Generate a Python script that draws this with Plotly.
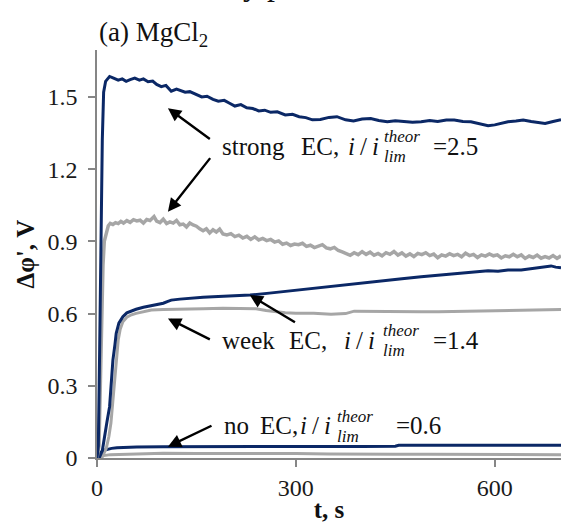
import plotly.graph_objects as go

# ---------------- data ----------------
t_strong_blue = [0, 2, 4, 6, 8, 10, 13, 16, 19, 25, 32, 38, 44, 50, 57, 64, 70, 77, 84, 90, 97, 104, 112, 120,
                 127, 133, 140, 150, 158, 166, 175, 183, 192, 200, 208, 217, 226, 235, 244, 253, 262, 272, 284,
                 295, 305, 315, 325, 337, 350, 362, 375, 387, 400, 413, 425, 438, 450, 463, 476, 489, 502, 514,
                 527, 539, 552, 564, 577, 590, 600, 610, 620, 632, 643, 655, 665, 676, 688, 700]
v_strong_blue = [0, 0.05, 0.45, 0.95, 1.32, 1.52, 1.565, 1.575, 1.585, 1.578, 1.57, 1.575, 1.565, 1.572, 1.578,
                 1.57, 1.575, 1.563, 1.566, 1.552, 1.543, 1.548, 1.524, 1.533, 1.527, 1.52, 1.522, 1.51, 1.50,
                 1.503, 1.49, 1.482, 1.486, 1.474, 1.462, 1.468, 1.455, 1.452, 1.442, 1.445, 1.436, 1.438, 1.425,
                 1.428, 1.418, 1.414, 1.405, 1.406, 1.415, 1.418, 1.405, 1.40, 1.408, 1.41, 1.402, 1.397, 1.401,
                 1.398, 1.395, 1.397, 1.402, 1.398, 1.404, 1.404, 1.398, 1.397, 1.39, 1.38, 1.384, 1.392, 1.397,
                 1.40, 1.404, 1.398, 1.395, 1.39, 1.398, 1.405]

t_strong_gray = [0, 3, 5, 7, 9, 11, 14, 17, 20, 24, 28, 32, 36, 40, 45, 50, 55, 60, 65, 70, 75, 80, 86, 90, 95,
                 100, 105, 110, 115, 120, 125, 130, 135, 140, 145, 150, 155, 160, 165, 170, 175, 180, 185, 190,
                 196, 202, 208, 214, 220, 226, 232, 238, 244, 250, 256, 262, 268, 274, 280, 286, 292, 298, 304,
                 310, 316, 322, 328, 334, 340, 346, 352, 358, 364, 370, 376, 382, 388, 394, 400, 406, 412, 418,
                 424, 430, 436, 442, 448, 454, 460, 466, 472, 478, 484, 490, 496, 502, 508, 514, 520, 526, 532,
                 538, 544, 550, 556, 562, 568, 574, 580, 586, 592, 598, 604, 610, 616, 622, 628, 634, 640, 646,
                 652, 658, 664, 670, 676, 682, 688, 694, 700]
v_strong_gray = [0, 0.05, 0.3, 0.6, 0.8, 0.9, 0.94, 0.965, 0.975, 0.97, 0.978, 0.974, 0.983, 0.976, 0.986, 0.979,
                 0.99, 0.985, 0.988, 0.976, 0.991, 0.987, 1.003, 0.984, 0.978, 0.992, 0.974, 0.981, 0.976, 0.987,
                 0.969, 0.972, 0.96, 0.976, 0.968, 0.963, 0.952, 0.944, 0.952, 0.935, 0.948, 0.939, 0.951, 0.931,
                 0.927, 0.932, 0.92, 0.926, 0.914, 0.921, 0.908, 0.919, 0.906, 0.912, 0.903, 0.908, 0.897, 0.902,
                 0.888, 0.893, 0.883, 0.889, 0.886, 0.892, 0.879, 0.884, 0.874, 0.88, 0.886, 0.873, 0.869, 0.875,
                 0.862, 0.856, 0.85, 0.842, 0.853, 0.845, 0.857, 0.846, 0.855, 0.842, 0.85, 0.84, 0.853, 0.846,
                 0.858, 0.843, 0.852, 0.839, 0.848, 0.837, 0.85, 0.845, 0.853, 0.841, 0.847, 0.832, 0.844, 0.839,
                 0.849, 0.841, 0.846, 0.836, 0.851, 0.841, 0.846, 0.833, 0.844, 0.839, 0.848, 0.84, 0.844, 0.831,
                 0.84, 0.836, 0.846, 0.836, 0.844, 0.829, 0.839, 0.833, 0.843, 0.83, 0.837, 0.831, 0.841, 0.829,
                 0.84]

t_week_blue = [0, 4, 8, 11, 15, 19, 22, 24, 27, 29, 33, 39, 45, 52, 59, 70, 80, 90, 100, 106, 112, 125, 140,
               160, 175, 200, 231, 260, 290, 327, 360, 388, 410, 438, 460, 489, 515, 539, 565, 590, 605, 620,
               640, 655, 670, 685, 692, 700]
v_week_blue = [0, 0.005, 0.03, 0.088, 0.15, 0.213, 0.32, 0.407, 0.47, 0.518, 0.56, 0.587, 0.603, 0.612, 0.618,
               0.626, 0.632, 0.636, 0.643, 0.65, 0.656, 0.66, 0.664, 0.668, 0.67, 0.673, 0.677, 0.685, 0.694,
               0.705, 0.715, 0.726, 0.731, 0.74, 0.745, 0.753, 0.76, 0.767, 0.773, 0.778, 0.776, 0.781, 0.781,
               0.786, 0.79, 0.798, 0.793, 0.79]

t_week_gray = [0, 8, 14, 18, 21, 24, 26.5, 29, 32, 35, 39, 45, 52, 59, 70, 82, 100, 130, 160, 190, 223, 240,
               255, 270, 284, 300, 327, 353, 375, 388, 410, 438, 460, 489, 515, 540, 565, 590, 615, 640, 665, 700]
v_week_gray = [0, 0.005, 0.04, 0.09, 0.145, 0.24, 0.338, 0.42, 0.49, 0.535, 0.566, 0.585, 0.595, 0.601, 0.607,
               0.615, 0.617, 0.62, 0.62, 0.622, 0.622, 0.62, 0.613, 0.608, 0.603, 0.601, 0.601, 0.597, 0.6,
               0.61, 0.609, 0.61, 0.607, 0.608, 0.608, 0.609, 0.611, 0.612, 0.614, 0.615, 0.616, 0.617]

t_no_blue = [0, 2, 4, 7, 10, 15, 22, 30, 45, 60, 100, 150, 200, 300, 400, 450, 455, 500, 600, 700]
v_no_blue = [0, 0.008, 0.018, 0.027, 0.032, 0.036, 0.04, 0.043, 0.045, 0.046, 0.047, 0.048, 0.048, 0.048,
             0.048, 0.049, 0.053, 0.053, 0.053, 0.053]

t_no_gray = [0, 5, 10, 20, 40, 60, 100, 150, 200, 250, 300, 350, 400, 450, 500, 550, 600, 650, 700]
v_no_gray = [0, 0.006, 0.01, 0.014, 0.015, 0.018, 0.02, 0.019, 0.02, 0.018, 0.019, 0.017, 0.018, 0.016,
             0.016, 0.015, 0.015, 0.014, 0.014]

x_ticks = [0, 300, 600]
y_ticks = [0, 0.3, 0.6, 0.9, 1.2, 1.5]
y_tick_labels = ["0", "0.3", "0.6", "0.9", "1.2", "1.5"]

# ---------------- style ----------------
BLUE = "#0b2866"
GRAY = "#a6a6a6"
AXIS = "#868686"
SERIF = "Liberation Serif"

fig = go.Figure()
series = [
    (t_no_gray, v_no_gray, GRAY, 3),
    (t_no_blue, v_no_blue, BLUE, 3),
    (t_week_gray, v_week_gray, GRAY, 3),
    (t_week_blue, v_week_blue, BLUE, 3),
    (t_strong_gray, v_strong_gray, GRAY, 3.5),
    (t_strong_blue, v_strong_blue, BLUE, 3),
]
for tx, vy, col, w in series:
    fig.add_trace(go.Scatter(x=tx, y=vy, mode="lines", line=dict(color=col, width=w),
                             showlegend=False, hoverinfo="skip"))

anns = []
# arrows (head x,y ; tail ax,ay) in data units
arrows = [
    (107, 1.453, 172.5, 1.321),
    (107, 1.023, 172.5, 1.252),
    (107, 0.580, 172.5, 0.490),
    (230.4, 0.677, 300.9, 0.560),
    (107, 0.047, 175, 0.137),
]
for x, y, ax, ay in arrows:
    anns.append(dict(x=x, y=y, ax=ax, ay=ay, xref="x", yref="y", axref="x", ayref="y", text="",
                     showarrow=True, arrowhead=2, arrowsize=1.1, arrowwidth=2.4, arrowcolor="black"))

def label(x, y, text, size=25):
    anns.append(dict(x=x, y=y, xref="x", yref="y", text=text, showarrow=False, xanchor="left",
                     yanchor="middle", font=dict(family=SERIF, size=size, color="#111111"),
                     borderpad=0))

math_i = "<i>i</i>\u2009/\u2009<i>i</i>"
# strong EC line
label(187.6, 1.296, "strong")
label(305.9, 1.296, "EC,")
label(376.4, 1.296, math_i)
label(431.0, 1.336, "<i>theor</i>", 17)
label(431.0, 1.253, "<i>lim</i>", 17)
label(505.3, 1.296, "=2.5")
# week EC line
label(187.6, 0.490, "week")
label(288.2, 0.490, "EC,")
label(371.3, 0.490, math_i)
label(430.5, 0.530, "<i>theor</i>", 17)
label(430.5, 0.447, "<i>lim</i>", 17)
label(504.8, 0.490, "=1.4")
# no EC line
label(190.5, 0.133, "no")
label(244.6, 0.133, "EC,")
label(304.0, 0.133, math_i)
label(360.5, 0.172, "<i>theor</i>", 17)
label(360.5, 0.090, "<i>lim</i>", 17)
label(449.9, 0.133, "=0.6")

# panel title
anns.append(dict(x=0, y=1.04, xref="paper", yref="paper", text="(a) MgCl<sub>2</sub>", showarrow=False,
                 xanchor="left", yanchor="middle", font=dict(family=SERIF, size=27, color="#111111")))
# caption line cut off by the top edge of the picture
anns.append(dict(x=0.31, y=1.162, xref="paper", yref="paper", text="y p", showarrow=False,
                 xanchor="left", yanchor="middle", font=dict(family=SERIF, size=32, color="#111111")))

fig.update_layout(
    width=561, height=523,
    margin=dict(l=97, r=0, t=50, b=65),
    paper_bgcolor="white", plot_bgcolor="white",
    annotations=anns,
    xaxis=dict(range=[0, 700], tickvals=x_ticks, ticktext=[str(v) for v in x_ticks],
               showgrid=False, zeroline=False, showline=True, linecolor=AXIS, linewidth=1.5,
               ticks="outside", ticklen=7, tickwidth=1.5, tickcolor=AXIS,
               tickfont=dict(family=SERIF, size=24, color="#1a1a1a"),
               title=dict(text="<b>t, s</b>", font=dict(family=SERIF, size=25, color="#111111"), standoff=2)),
    yaxis=dict(range=[0, 1.695], tickvals=y_ticks, ticktext=y_tick_labels,
               showgrid=False, zeroline=False, showline=True, linecolor=AXIS, linewidth=1.5,
               ticks="outside", ticklen=7, tickwidth=1.5, tickcolor=AXIS, ticklabelstandoff=6,
               tickfont=dict(family=SERIF, size=24, color="#1a1a1a"),
               title=dict(text="<b>Δφ', V</b>", font=dict(family=SERIF, size=25, color="#111111"), standoff=6)),
)

fig.write_html("out.html")
